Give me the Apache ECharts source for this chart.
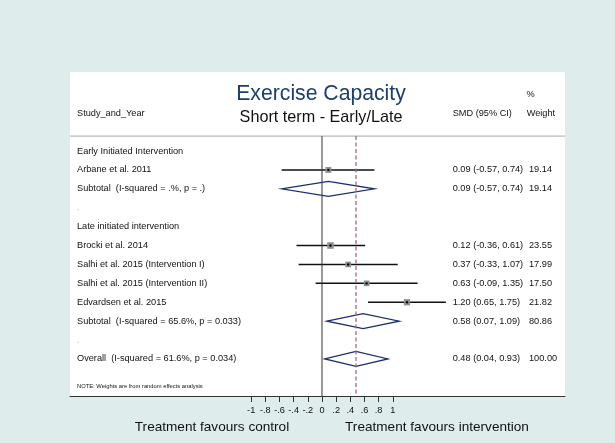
<!DOCTYPE html>
<html><head><meta charset="utf-8">
<script src="https://cdn.jsdelivr.net/npm/echarts@6/dist/echarts.min.js"></script>
<style>html,body{margin:0;padding:0;background:#dfecec}#c{width:615px;height:443px}</style>
</head><body><div id="c"></div>
<script>
// ---- data ----
const rowLabels = [
  'Early Initiated Intervention',
  'Arbane et al. 2011',
  'Subtotal  (I-squared = .%, p = .)',
  '.',
  'Late initiated intervention',
  'Brocki et al. 2014',
  'Salhi et al. 2015 (Intervention I)',
  'Salhi et al. 2015 (Intervention II)',
  'Edvardsen et al. 2015',
  'Subtotal  (I-squared = 65.6%, p = 0.033)',
  '.',
  'Overall  (I-squared = 61.6%, p = 0.034)'
];
const rowType = ['head','study','sub','blank','head','study','study','study','study','sub','blank','sub'];
const est    = [null, 0.09, 0.09, null, null, 0.12, 0.37, 0.63, 1.20, 0.58, null, 0.48];
const lo     = [null,-0.57,-0.57, null, null,-0.36,-0.33,-0.09, 0.65, 0.07, null, 0.04];
const hi     = [null, 0.74, 0.74, null, null, 0.61, 1.07, 1.35, 1.75, 1.09, null, 0.93];
const weight = [null,19.14,19.14, null, null,23.55,17.99,17.50,21.82,80.86, null,100.00];
const tickValues = [-1,-0.8,-0.6,-0.4,-0.2,0,0.2,0.4,0.6,0.8,1];
const overallEst = 0.48;

// ---- chart ----
const FONT = '"Liberation Sans", Arial, sans-serif';
const X_MIN = -3.559, X_MAX = 3.432;
const Y_MIN = -4.18, Y_MAX = 12.96;
const HEADER_Y = -0.79;
const FS = 9.2;

function fmt(v){ return v.toFixed(2); }
function tickFmt(v){
  if (Math.abs(v) < 1e-9) return '0';
  let s = String(Math.round(v*10)/10);
  return s.replace('0.', '.');
}

const chart = echarts.init(document.getElementById('c'));
const option = {
  backgroundColor: '#dfecec',
  animation: false,
  grid: {left:70, right:50, top:72, bottom:47, show:true, backgroundColor:'#ffffff', borderWidth:0},
  xAxis: {
    type:'value', min:X_MIN, max:X_MAX,
    splitLine:{show:false},
    axisLine:{show:true, onZero:false, lineStyle:{color:'#333', width:1}},
    axisTick:{show:true, customValues: tickValues, length:6, lineStyle:{color:'#333', width:1}},
    axisLabel:{customValues: tickValues, formatter: tickFmt, fontSize:FS, color:'#111', margin:10, fontFamily:FONT}
  },
  yAxis: {type:'value', inverse:true, min:Y_MIN, max:Y_MAX, show:false},
  graphic: [
    {type:'text', x:321, y:94, style:{text:'Exercise Capacity', fontSize:21.2, fontFamily:FONT, fill:'#1c3d70', align:'center', verticalAlign:'middle'}},
    {type:'text', x:321, y:118, style:{text:'Short term - Early/Late', fontSize:16.2, fontFamily:FONT, fill:'#111', align:'center', verticalAlign:'middle'}},
    {type:'text', x:77, y:113, style:{text:'Study_and_Year', fontSize:FS, fontFamily:FONT, fill:'#111', align:'left', verticalAlign:'middle'}},
    {type:'text', x:452.7, y:113, style:{text:'SMD (95% CI)', fontSize:FS, fontFamily:FONT, fill:'#111', align:'left', verticalAlign:'middle'}},
    {type:'text', x:526.7, y:113, style:{text:'Weight', fontSize:FS, fontFamily:FONT, fill:'#111', align:'left', verticalAlign:'middle'}},
    {type:'text', x:526.5, y:94, style:{text:'%', fontSize:FS, fontFamily:FONT, fill:'#111', align:'left', verticalAlign:'middle'}},
    {type:'text', x:77, y:386, style:{text:'NOTE: Weights are from random effects analysis', fontSize:5.8, fontFamily:FONT, fill:'#111', align:'left', verticalAlign:'middle'}},
    {type:'text', x:212, y:427, style:{text:'Treatment favours control', fontSize:13.6, fontFamily:FONT, fill:'#111', align:'center', verticalAlign:'middle'}},
    {type:'text', x:437, y:427, style:{text:'Treatment favours intervention', fontSize:13.6, fontFamily:FONT, fill:'#111', align:'center', verticalAlign:'middle'}}
  ],
  series: [
    {type:'line', data:[[X_MIN, HEADER_Y],[X_MAX, HEADER_Y]], symbol:'none', silent:true,
     lineStyle:{color:'#a8a8a8', width:1}},
    {type:'line', data:[[0, HEADER_Y],[0, Y_MAX]], symbol:'none', silent:true,
     lineStyle:{color:'#333', width:1}},
    {type:'line', data:[[overallEst, HEADER_Y],[overallEst, Y_MAX]], symbol:'none', silent:true,
     lineStyle:{color:'#a66a7c', width:1.3, type:[4,2.5]}},
    {
      type:'custom',
      data: rowLabels.map((_, i) => [0, i]),
      encode:{x:0, y:1},
      renderItem: function(params, api){
        const i = params.dataIndex;
        const k = api.value(1);
        const yPix = api.coord([0, k])[1];
        const t = rowType[i];
        const children = [];
        children.push({type:'text', style:{x:77, y:yPix, text:rowLabels[i], fontSize:FS, fontFamily:FONT,
          fill: t === 'blank' ? '#bbbbbb' : '#111', align:'left', verticalAlign:'middle'}});
        if (t === 'study') {
          const pLo = api.coord([lo[i], k]), pHi = api.coord([hi[i], k]), pE = api.coord([est[i], k]);
          children.push({type:'line', shape:{x1:pLo[0], y1:yPix, x2:pHi[0], y2:yPix}, style:{stroke:'#111', lineWidth:1.5}});
          const s = 1.35 * Math.sqrt(weight[i]);
          children.push({type:'rect', shape:{x:pE[0]-s/2, y:yPix-s/2, width:s, height:s}, style:{fill:'#8f8f8f'}});
          children.push({type:'circle', shape:{cx:pE[0], cy:yPix, r:1.2}, style:{fill:'#000'}});
        } else if (t === 'sub') {
          const pLo = api.coord([lo[i], k]), pHi = api.coord([hi[i], k]), pE = api.coord([est[i], k]);
          const h = 7.5;
          children.push({type:'polygon', shape:{points:[[pLo[0], yPix],[pE[0], yPix-h],[pHi[0], yPix],[pE[0], yPix+h]]},
            style:{fill:'none', stroke:'#1e2d6e', lineWidth:1.3}});
        }
        if (est[i] != null) {
          children.push({type:'text', style:{x:452.7, y:yPix, text: fmt(est[i]) + ' (' + fmt(lo[i]) + ', ' + fmt(hi[i]) + ')',
            fontSize:FS, fontFamily:FONT, fill:'#111', align:'left', verticalAlign:'middle'}});
          children.push({type:'text', style:{x:529, y:yPix, text: fmt(weight[i]),
            fontSize:FS, fontFamily:FONT, fill:'#111', align:'left', verticalAlign:'middle'}});
        }
        return {type:'group', children};
      }
    }
  ]
};
chart.setOption(option);
</script>
</body></html>
